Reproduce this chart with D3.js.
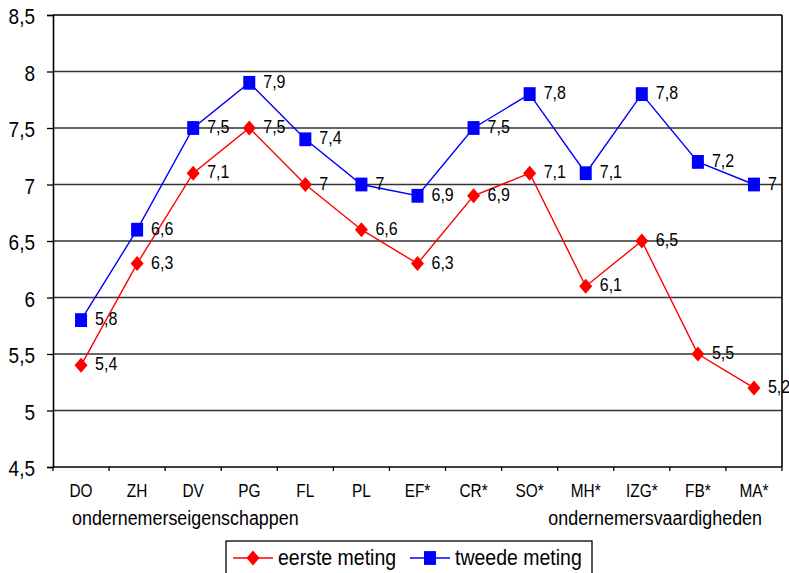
<!DOCTYPE html>
<html>
<head>
<meta charset="utf-8">
<script src="https://cdn.jsdelivr.net/npm/d3@7"></script>
<style>
  html, body { margin: 0; padding: 0; background: #fff; }
  svg { display: block; font-family: "Liberation Sans", Arial, sans-serif; }
</style>
</head>
<body>
<svg id="chart" width="789" height="573"></svg>
<script>
// Competence scores per category, first and second measurement
const categories = ["DO", "ZH", "DV", "PG", "FL", "PL", "EF*", "CR*", "SO*", "MH*", "IZG*", "FB*", "MA*"];
const eersteMeting = [5.4, 6.3, 7.1, 7.5, 7.0, 6.6, 6.3, 6.9, 7.1, 6.1, 6.5, 5.5, 5.2];
const tweedeMeting = [5.8, 6.6, 7.5, 7.9, 7.4, 7.0, 6.9, 7.5, 7.8, 7.1, 7.8, 7.2, 7.0];
const yTicks = [4.5, 5, 5.5, 6, 6.5, 7, 7.5, 8, 8.5];
const groupLabels = ["ondernemerseigenschappen", "ondernemersvaardigheden"];
const seriesNames = ["eerste meting", "tweede meting"];

const svg = d3.select("#chart");
const plotLeft = 53, plotRight = 782, plotTop = 15, plotBottom = 467;
const stretch = 1.15; // glyphs are slightly taller than wide

const x = d3.scaleBand().domain(categories).range([plotLeft, plotRight]).padding(0);
const y = d3.scaleLinear().domain([4.5, 8.5]).range([plotBottom, plotTop]);
const cx = i => x(categories[i]) + x.bandwidth() / 2;
const fmt = v => String(v).replace(".", ",");

function label(g, px, py, txt, size, anchor) {
  return g.append("text")
    .attr("transform", `translate(${px},${py}) scale(1,${stretch})`)
    .attr("text-anchor", anchor || "start")
    .attr("font-size", size).attr("fill", "#000").text(txt);
}

// horizontal gridlines
svg.append("g").selectAll("line").data(yTicks.slice(1, -1)).join("line")
  .attr("x1", plotLeft).attr("x2", plotRight)
  .attr("y1", d => y(d)).attr("y2", d => y(d))
  .attr("stroke", "#333").attr("stroke-width", 1.3);

// top and right border of plot area
svg.append("line").attr("x1", plotLeft).attr("x2", plotRight).attr("y1", y(8.5)).attr("y2", y(8.5))
  .attr("stroke", "#000").attr("stroke-width", 1.6);
svg.append("line").attr("x1", plotRight).attr("x2", plotRight).attr("y1", plotTop).attr("y2", plotBottom)
  .attr("stroke", "#000").attr("stroke-width", 1.6);

// y axis
const yAxis = svg.append("g").attr("transform", `translate(${plotLeft},0)`)
  .call(d3.axisLeft(y).tickValues(yTicks).tickFormat(fmt).tickSize(6).tickPadding(0));
yAxis.select(".domain").attr("stroke", "#000").attr("stroke-width", 1.6);
yAxis.selectAll(".tick line").attr("stroke", "#000").attr("stroke-width", 1.3);
yAxis.selectAll(".tick text")
  .attr("x", null).attr("dy", "0.36em")
  .attr("transform", `translate(-18,1) scale(1,${stretch})`)
  .attr("font-size", 19).attr("fill", "#000")
  .attr("font-family", "Liberation Sans, Arial, sans-serif");

// x axis with ticks at category boundaries
const xAxisG = svg.append("g").attr("transform", `translate(0,${plotBottom})`);
xAxisG.append("line").attr("x1", plotLeft).attr("x2", plotRight).attr("y1", 0).attr("y2", 0)
  .attr("stroke", "#000").attr("stroke-width", 1.6);
const bounds = categories.map(c => x(c)).concat([plotRight]);
xAxisG.selectAll("line.tk").data(bounds).join("line").attr("class", "tk")
  .attr("x1", d => d).attr("x2", d => d).attr("y1", 0).attr("y2", 4)
  .attr("stroke", "#000").attr("stroke-width", 1.3);
categories.forEach((c, i) => label(xAxisG, cx(i), 30, c, 15.4, "middle"));

// group labels
label(svg, 72, 525, groupLabels[0], 17.9);
label(svg, 762, 525, groupLabels[1], 17.9, "end");

const line = d3.line().x((d, i) => cx(i)).y(d => y(d));

// marker shapes: diamond 13 wide x 15 tall, square 12 wide x 14 tall
const diamondPath = d3.symbol().type(d3.symbolDiamond).size(65)();
const squarePath = d3.symbol().type(d3.symbolSquare).size(144)();
const markerScale = { diamond: "scale(1.5,1)", square: `scale(1,${stretch})` };

function drawSeries(values, color, kind) {
  const g = svg.append("g");
  g.append("path").datum(values).attr("d", line)
    .attr("fill", "none").attr("stroke", color).attr("stroke-width", 1.4);
  g.selectAll("path.m").data(values).join("path").attr("class", "m")
    .attr("d", kind === "diamond" ? diamondPath : squarePath)
    .attr("transform", (d, i) => `translate(${cx(i)},${y(d)}) ${markerScale[kind]}`)
    .attr("fill", color);
  values.forEach((v, i) => label(g, cx(i) + 14, y(v) + 5, fmt(v), 16));
}

drawSeries(eersteMeting, "#ff0000", "diamond");
drawSeries(tweedeMeting, "#0000ff", "square");

// legend
const lg = svg.append("g");
lg.append("rect").attr("x", 226).attr("y", 541).attr("width", 366).attr("height", 40)
  .attr("fill", "#fff").attr("stroke", "#000").attr("stroke-width", 1.3);
const legendItems = [
  { label: seriesNames[0], color: "#ff0000", kind: "diamond", x0: 233 },
  { label: seriesNames[1], color: "#0000ff", kind: "square", x0: 410 }
];
legendItems.forEach(it => {
  const ly = 558;
  lg.append("line").attr("x1", it.x0).attr("x2", it.x0 + 40).attr("y1", ly).attr("y2", ly)
    .attr("stroke", it.color).attr("stroke-width", 1.4);
  lg.append("path")
    .attr("d", it.kind === "diamond" ? diamondPath : squarePath)
    .attr("transform", `translate(${it.x0 + 20},${ly}) ${markerScale[it.kind]}`)
    .attr("fill", it.color);
  label(lg, it.x0 + 45, 565, it.label, 19.5);
});
</script>
</body>
</html>
